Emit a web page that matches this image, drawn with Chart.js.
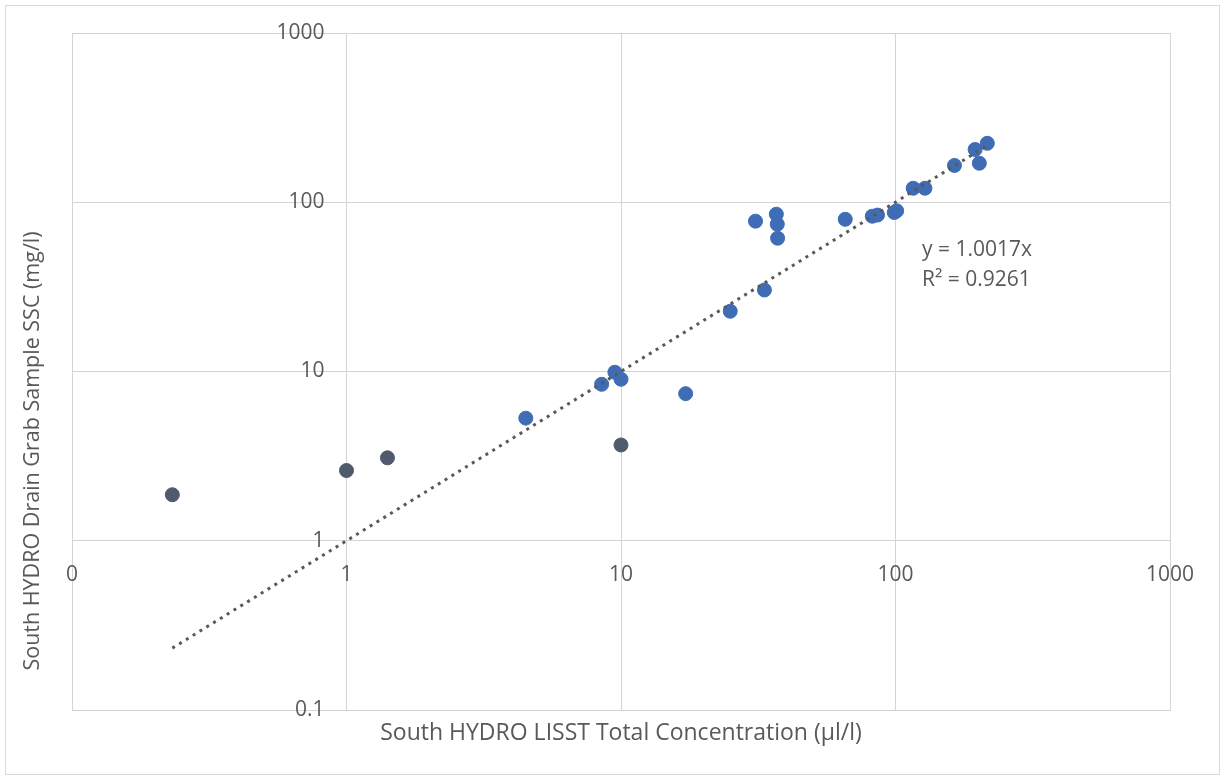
<!DOCTYPE html>
<html>
<head>
<meta charset="utf-8">
<script src="https://cdn.jsdelivr.net/npm/chart.js@4.4.1/dist/chart.umd.min.js"></script>
<style>
  html, body { margin: 0; padding: 0; background: #fff; }
  #wrap { width: 1225px; height: 780px; }
</style>
</head>
<body>
<div id="wrap"><canvas id="grafico" width="1225" height="780"></canvas></div>
<script>
// LISST total concentration (x) vs grab sample SSC (y)
const blueX = [4.5, 8.5, 9.5, 10, 17.2, 25, 33.3, 30.9, 36.8, 37.1, 37.2, 65.6, 82.3, 86, 99, 101, 116, 128, 164, 195, 202, 216];
const blueY = [5.3, 8.4, 9.9, 9.0, 7.4, 22.7, 30.3, 77.3, 85, 74.2, 61.3, 79.3, 82.7, 84, 87, 89, 121, 121, 165, 205, 170, 223];
const grayX = [0.232, 1.0, 1.41, 10];
const grayY = [1.87, 2.6, 3.09, 3.68];

// linear trendline through origin, y = 1.0017x, spans data range
const trendX = [0.232, 216];
const trendY = [0.232, 216.4];

const tickValues = [0.1, 1, 10, 100, 1000];
const xTickLabels = ['0', '1', '10', '100', '1000'];
const yTickLabels = ['0.1', '1', '10', '100', '1000'];

const xTitle = 'South HYDRO LISST Total Concentration (\u00b5l/l)';
const yTitle = 'South HYDRO Drain Grab Sample SSC (mg/l)';
const eqLines = ['y = 1.0017x', 'R\u00b2 = 0.9261'];

function pts(xs, ys) {
  return xs.map((x, i) => ({ x: x, y: ys[i] }));
}

const FONT = '"Open Sans", sans-serif';
const TEXT = '#595959';

// draws tick labels where the axes cross (x=1, y=1), titles, equation and frame
const excelLabels = {
  id: 'excelLabels',
  beforeDraw(chart) {
    const c = chart.ctx;
    c.save();
    c.fillStyle = '#fff';
    c.fillRect(0, 0, chart.width, chart.height);
    c.restore();
  },
  afterDraw(chart) {
    const c = chart.ctx;
    const xs = chart.scales.x, ys = chart.scales.y;
    c.save();
    c.fillStyle = TEXT;
    c.font = '21px ' + FONT;

    // x tick labels, below y = 1
    c.textAlign = 'center';
    c.textBaseline = 'middle';
    const yCross = ys.getPixelForValue(1);
    tickValues.forEach((v, i) => {
      c.fillText(xTickLabels[i], xs.getPixelForValue(v), yCross + 34);
    });

    // y tick labels, left of x = 1
    c.textAlign = 'right';
    const xCross = xs.getPixelForValue(1);
    tickValues.forEach((v, i) => {
      c.fillText(yTickLabels[i], xCross - 22, ys.getPixelForValue(v));
    });

    // axis titles
    c.textAlign = 'center';
    c.font = '23px ' + FONT;
    c.fillText(xTitle, (chart.chartArea.left + chart.chartArea.right) / 2, 733);
    c.save();
    c.font = '21.5px ' + FONT;
    c.translate(33, 451);
    c.rotate(-Math.PI / 2);
    c.fillText(yTitle, 0, 0);
    c.restore();

    // trendline equation
    c.textAlign = 'left';
    c.font = '21px ' + FONT;
    c.fillText(eqLines[0], 922, 250);
    c.fillText(eqLines[1], 922, 280);

    // outer frame
    c.strokeStyle = '#d9d9d9';
    c.lineWidth = 1;
    c.strokeRect(5.5, 5.5, 1214, 769);
    c.restore();
  }
};

const ctx = document.getElementById('grafico').getContext('2d');

new Chart(ctx, {
  type: 'scatter',
  data: {
    datasets: [
      {
        label: 'trend',
        type: 'line',
        data: pts(trendX, trendY),
        borderColor: '#595959',
        borderWidth: 3,
        borderDash: [3, 5],
        pointRadius: 0,
        fill: false,
        order: 0
      },
      {
        label: 'samples',
        data: pts(blueX, blueY),
        backgroundColor: '#3f6db5',
        borderColor: '#3f6db5',
        pointRadius: 7,
        pointHoverRadius: 7,
        order: 1
      },
      {
        label: 'samples low',
        data: pts(grayX, grayY),
        backgroundColor: '#4f5a6c',
        borderColor: '#4f5a6c',
        pointRadius: 7,
        pointHoverRadius: 7,
        order: 1
      }
    ]
  },
  options: {
    responsive: false,
    animation: false,
    layout: {
      padding: { left: 72, top: 33, right: 55, bottom: 70 }
    },
    plugins: {
      legend: { display: false },
      tooltip: { enabled: false }
    },
    scales: {
      x: {
        type: 'logarithmic',
        min: 0.1,
        max: 1000,
        afterBuildTicks: s => { s.ticks = tickValues.map(v => ({ value: v })); },
        afterFit: s => { s.height = 0; },
        ticks: { display: false },
        grid: { color: '#d4d4d4', drawTicks: false },
        border: { color: '#d4d4d4' }
      },
      y: {
        type: 'logarithmic',
        min: 0.1,
        max: 1000,
        afterBuildTicks: s => { s.ticks = tickValues.map(v => ({ value: v })); },
        afterFit: s => { s.width = 0; },
        ticks: { display: false },
        grid: { color: '#d4d4d4', drawTicks: false },
        border: { color: '#d4d4d4' }
      }
    }
  },
  plugins: [excelLabels]
});
</script>
</body>
</html>
